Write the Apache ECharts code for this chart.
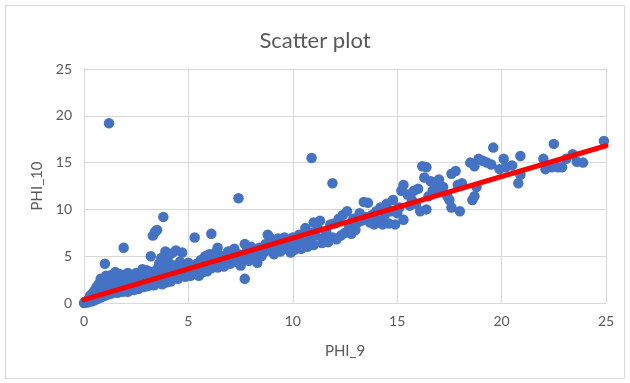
<!DOCTYPE html>
<html lang="en">
<head>
    <meta charset="UTF-8">
    <title>Scatter plot</title>
    <script src="https://cdn.jsdelivr.net/npm/echarts@6/dist/echarts.min.js"></script>
    <style>
        html, body { margin: 0; padding: 0; background: #fff; }
    </style>
</head>
<body>
<div id="chart" style="width: 630px; height: 383px;"></div>
<script>
    // points, [PHI_9, PHI_10]
    var points = [
        [0,0],[0.05,0.1],[0.1,0.2],[0.15,0.05],[0.2,0.3],[0.25,0.5],[0.3,0.15],[0.3,0.8],[0.35,0.4],[0.4,1.0],
        [0.4,0.2],[0.45,0.6],[0.5,1.3],[0.5,0.3],[0.55,0.8],[0.6,1.7],[0.6,0.4],[0.65,1.1],[0.7,0.5],[0.7,2.0],
        [0.75,1.4],[0.8,0.6],[0.8,2.6],[0.85,1.0],[0.9,1.8],[0.9,0.7],[0.95,2.3],[1.0,4.2],[1.0,0.8],[1.0,1.5],
        [1.05,2.9],[1.1,1.1],[1.1,2.0],[1.15,0.9],[1.2,19.2],[1.2,2.6],[1.25,1.4],[1.3,3.0],[1.3,1.0],[1.35,1.9],
        [1.4,2.4],[1.45,1.2],[1.5,3.3],[1.5,1.6],[1.55,2.8],[1.6,1.1],[1.6,2.2],[1.7,3.1],[1.7,1.4],[1.75,2.6],
        [1.8,1.8],[1.85,1.2],[1.9,5.9],[1.9,3.0],[1.95,2.2],[2.0,1.5],[2.0,2.7],[2.1,3.2],[2.1,1.2],[2.15,2.0],
        [2.2,2.9],[2.25,1.6],[2.3,3.0],[2.35,2.3],[2.4,1.4],[2.45,2.7],[2.5,3.2],[2.5,1.8],[2.6,2.4],[2.6,1.5],
        [2.7,3.0],[2.75,2.0],[2.8,3.6],[2.85,1.7],[2.9,2.6],[2.95,3.1],[3.0,2.1],[3.0,3.5],[3.05,1.8],[3.1,2.8],
        [3.2,5.0],[3.2,3.3],[3.25,2.2],[3.3,7.2],[3.3,3.0],[3.35,1.9],[3.4,7.6],[3.4,2.6],[3.5,7.8],[3.5,3.6],
        [3.5,2.1],[3.6,4.2],[3.6,3.0],[3.65,2.4],[3.7,4.8],[3.7,3.4],[3.75,2.0],[3.8,9.2],[3.8,4.5],[3.85,2.8],
        [3.9,5.5],[3.9,3.8],[3.95,2.2],[4.0,4.8],[4.0,3.3],[4.05,2.6],[4.1,4.2],[4.15,2.3],[4.2,5.3],[4.2,3.6],
        [4.3,2.8],[4.35,4.0],[4.4,5.6],[4.4,3.1],[4.5,2.6],[4.55,3.6],[4.6,4.4],[4.7,5.4],[4.7,3.0],[4.8,3.9],
        [4.85,2.8],[5.0,3.4],[5.0,4.3],[5.1,2.9],[5.2,3.8],[5.3,7.0],[5.3,3.2],[5.4,4.2],[5.5,3.6],[5.5,2.9],
        [5.6,4.6],[5.7,3.3],[5.8,5.0],[5.8,3.9],[5.9,3.4],[6.0,4.4],[6.0,5.2],[6.1,7.4],[6.1,3.7],[6.2,4.8],
        [6.3,4.1],[6.3,5.4],[6.4,5.9],[6.4,3.8],[6.5,4.5],[6.6,5.0],[6.7,3.9],[6.8,4.6],[6.9,5.5],[7.0,4.2],
        [7.0,5.0],[7.1,4.7],[7.2,5.8],[7.3,4.4],[7.4,11.2],[7.4,5.2],[7.5,4.0],[7.6,4.8],[7.7,2.6],[7.7,6.3],
        [7.8,5.5],[7.9,4.5],[8.0,5.2],[8.0,6.0],[8.1,4.8],[8.2,5.6],[8.3,4.3],[8.4,5.9],[8.5,5.0],[8.6,5.4],
        [8.7,6.3],[8.8,7.3],[8.9,7.0],[8.9,5.6],[9.0,6.6],[9.1,5.2],[9.2,6.0],[9.3,6.9],[9.4,5.5],[9.5,6.4],
        [9.6,7.0],[9.7,5.8],[9.8,6.6],[9.9,5.4],[10.0,6.2],[10.0,7.0],[10.1,5.7],[10.2,6.6],[10.3,7.3],[10.4,5.8],
        [10.5,6.5],[10.6,8.0],[10.7,6.0],[10.8,6.8],[10.9,15.5],[10.9,7.5],[11.0,8.6],[11.0,6.2],[11.1,7.2],[11.2,8.0],
        [11.3,8.8],[11.4,6.4],[11.5,7.0],[11.6,7.6],[11.7,6.5],[11.8,8.4],[11.9,12.8],[11.9,7.0],[12.0,8.5],[12.1,6.8],
        [12.2,9.0],[12.3,7.2],[12.4,9.4],[12.5,7.5],[12.6,9.8],[12.7,8.2],[12.8,7.4],[12.9,9.0],[13.0,7.8],[13.1,8.6],
        [13.2,9.6],[13.3,8.8],[13.4,10.8],[13.5,9.2],[13.6,10.7],[13.7,8.6],[13.8,9.4],[13.9,8.4],[14.0,9.8],[14.1,8.8],
        [14.2,10.2],[14.3,8.4],[14.4,9.4],[14.5,10.6],[14.6,8.5],[14.7,9.8],[14.8,11.0],[14.9,8.4],[15.0,9.6],[15.1,10.2],
        [15.2,12.0],[15.3,12.6],[15.3,8.9],[15.5,11.6],[15.6,10.4],[15.7,11.0],[15.8,12.0],[15.9,10.6],[16.0,12.2],[16.1,9.8],
        [16.2,14.6],[16.3,13.4],[16.4,14.5],[16.4,10.0],[16.5,11.4],[16.6,13.0],[16.7,12.0],[16.8,12.8],[17.0,13.2],[17.1,12.0],
        [17.2,12.4],[17.4,11.4],[17.5,11.0],[17.6,13.8],[17.6,10.2],[17.8,14.1],[17.9,12.6],[18.0,9.8],[18.1,12.8],[18.5,15.0],
        [18.6,11.0],[18.7,11.4],[18.7,14.6],[18.8,12.4],[18.9,15.4],[19.1,15.2],[19.3,15.0],[19.5,14.8],[19.6,16.6],[19.9,14.3],
        [20.1,15.4],[20.2,14.5],[20.5,14.7],[20.8,12.8],[20.9,13.7],[20.9,15.7],[22.0,15.4],[22.1,14.3],[22.4,14.5],[22.5,17.0],
        [22.7,14.5],[22.9,14.5],[23.1,15.4],[23.4,15.9],[23.6,15.1],[23.9,15.0],[24.9,17.3]
    ];

    // linear trendline end points
    var trendX = [0, 25];
    var trendY = [0.35, 16.8];

    var xTicks = [0, 5, 10, 15, 20, 25];
    var yTicks = [0, 5, 10, 15, 20, 25];

    var txt = '#595959';
    var gridCol = '#d9d9d9';
    var font = 'Lato, "Open Sans", sans-serif';

    var chart = echarts.init(document.getElementById('chart'));
    chart.setOption({
        backgroundColor: '#ffffff',
        animation: false,
        title: {
            text: 'Scatter plot',
            left: 'center',
            top: 25,
            textStyle: { color: txt, fontSize: 22, fontWeight: 'normal', fontFamily: font }
        },
        graphic: [{
            type: 'rect',
            shape: { x: 5.5, y: 5.5, width: 619, height: 373 },
            style: { fill: 'none', stroke: gridCol, lineWidth: 1 },
            silent: true
        }],
        grid: { left: 84, right: 24, top: 69, bottom: 80 },
        xAxis: {
            type: 'value',
            min: xTicks[0], max: xTicks[xTicks.length - 1], interval: 5,
            name: 'PHI_9',
            nameLocation: 'middle',
            nameGap: 41,
            nameTextStyle: { color: txt, fontSize: 15, fontFamily: font },
            axisLine: { show: true, lineStyle: { color: gridCol } },
            axisTick: { show: false },
            axisLabel: { color: txt, fontSize: 14, fontFamily: font, margin: 11 },
            splitLine: { show: true, lineStyle: { color: gridCol } }
        },
        yAxis: {
            type: 'value',
            min: yTicks[0], max: yTicks[yTicks.length - 1], interval: 5,
            name: 'PHI_10',
            nameLocation: 'middle',
            nameGap: 27,
            nameTextStyle: { color: txt, fontSize: 15, fontFamily: font },
            axisLine: { show: true, lineStyle: { color: gridCol } },
            axisTick: { show: false },
            axisLabel: { color: txt, fontSize: 14, fontFamily: font, margin: 12 },
            splitLine: { show: true, lineStyle: { color: gridCol } }
        },
        series: [{
            name: 'PHI_10',
            type: 'scatter',
            symbolSize: 10.5,
            itemStyle: { color: '#4472c4', opacity: 1 },
            data: points
        }, {
            name: 'Trend',
            type: 'line',
            symbol: 'none',
            lineStyle: { color: '#ff0000', width: 5, cap: 'round' },
            data: trendX.map(function (x, i) { return [x, trendY[i]]; })
        }]
    });
</script>
</body>
</html>
